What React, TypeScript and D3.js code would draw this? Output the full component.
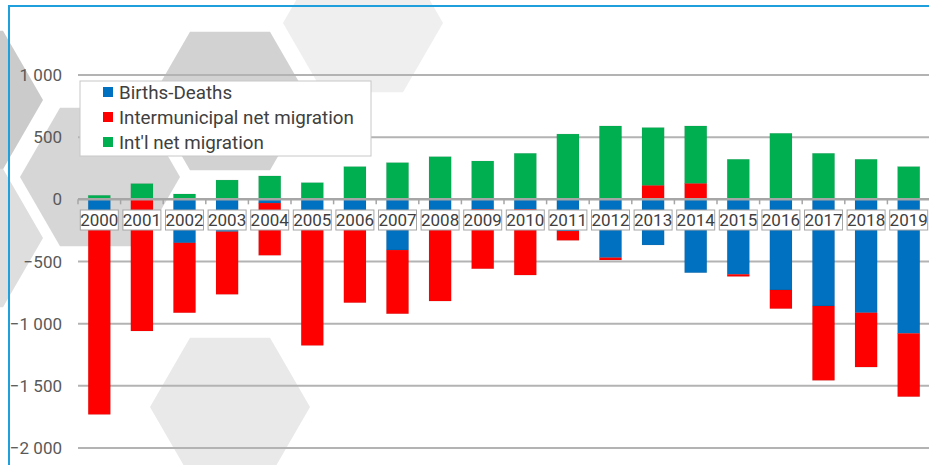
import React, { useEffect, useRef } from 'react'
import * as d3 from 'd3'

const years = ['2000', '2001', '2002', '2003', '2004', '2005', '2006', '2007', '2008', '2009',
  '2010', '2011', '2012', '2013', '2014', '2015', '2016', '2017', '2018', '2019']
const birthsDeaths = [-100, 0, -350, -260, -30, -100, -100, -408, -100, -80,
  -80, -255, -469, -367, -590, -603, -729, -858, -912, -1078]
const interMigration = [-1630, -1059, -562, -504, -420, -1075, -731, -512, -718, -478,
  -529, -75, -19, 113, 129, -17, -150, -598, -437, -509]
const intlMigration = [32, 126, 43, 155, 188, 134, 263, 295, 343, 308,
  370, 525, 590, 464, 461, 322, 531, 370, 322, 263]
const seriesNames = ['Births-Deaths', 'Intermunicipal net migration', "Int'l net migration"]
const seriesColors = ['#0070c0', '#ff0000', '#00b050']
const yTicks = [1000, 500, 0, -500, -1000, -1500, -2000]

// decorative hexagons behind the plot: [cx, cy, fill]
const hexes: [number, number, string][] = [
  [363, 23, '#efefef'],
  [230, 101, '#d2d2d2'],
  [100, 177, '#d6d6d6'],
  [-37, 100, '#cbcbcb'],
  [-37, 238, '#dedede'],
  [230, 407, '#e9e9e9'],
]

export default function App() {
  const ref = useRef<HTMLDivElement | null>(null)

  useEffect(() => {
    const container = d3.select(ref.current!)
    container.selectAll('*').remove()
    const width = 929
    const height = 465
    const svg = container.append('svg')
      .attr('width', width).attr('height', height)
      .style('position', 'absolute').style('left', '0px').style('top', '0px')
      .style('font-family', 'Roboto, sans-serif')

    svg.append('rect').attr('width', width).attr('height', height).attr('fill', '#fff')

    const R = 80
    svg.append('g').selectAll('polygon').data(hexes).enter().append('polygon')
      .attr('points', d => d3.range(6).map(k => {
        const a = (Math.PI / 3) * k
        return `${d[0] + R * Math.cos(a)},${d[1] + R * Math.sin(a)}`
      }).join(' '))
      .attr('fill', d => d[2])

    // frame
    svg.append('path').attr('d', `M9,465 V6 H929`).attr('fill', 'none')
      .attr('stroke', '#1fa0dc').attr('stroke-width', 2)

    const x = d3.scaleBand<string>().domain(years).range([78, 930]).paddingInner(0.48).paddingOuter(0.24)
    const y = d3.scaleLinear().domain([-2000, 1000]).range([448, 75])

    svg.append('g').selectAll('line').data(yTicks.filter(t => t !== 0)).enter().append('line')
      .attr('x1', 78).attr('x2', width).attr('y1', d => y(d)).attr('y2', d => y(d))
      .attr('stroke', '#b3b3b3').attr('stroke-width', 2)

    svg.append('g').selectAll('text').data(yTicks).enter().append('text')
      .attr('x', 62).attr('y', d => y(d)).attr('dy', '0.36em')
      .attr('text-anchor', 'end').attr('font-size', 17).attr('fill', '#595959')
      .text(d => d3.format(',')(d).replace(/,/g, ' '))

    const rows = years.map((yr, i) => ({ year: yr, a: birthsDeaths[i], b: interMigration[i], c: intlMigration[i] }))
    const stack = d3.stack<any>().keys(['a', 'b', 'c']).offset(d3.stackOffsetDiverging)
    const layers = stack(rows)

    svg.append('g').selectAll('g').data(layers).enter().append('g')
      .attr('fill', (_, i) => seriesColors[i])
      .selectAll('rect').data(d => d).enter().append('rect')
      .attr('x', d => x(d.data.year)!)
      .attr('width', x.bandwidth())
      .attr('y', d => y(Math.max(d[0], d[1])))
      .attr('height', d => Math.abs(y(d[0]) - y(d[1])))
      .attr('stroke', 'rgba(0,0,0,0.12)').attr('stroke-width', 0.6)

    // zero axis with ticks
    const axis = svg.append('g')
    axis.append('line').attr('x1', 78).attr('x2', width).attr('y1', y(0)).attr('y2', y(0))
      .attr('stroke', '#a6a6a6').attr('stroke-width', 2.5)
    axis.selectAll('.tk').data(d3.range(years.length + 1)).enter().append('line')
      .attr('x1', k => 78 + k * x.step()).attr('x2', k => 78 + k * x.step())
      .attr('y1', y(0)).attr('y2', y(0) + 5)
      .attr('stroke', '#a6a6a6').attr('stroke-width', 1.5)

    // category labels in boxes
    const lab = svg.append('g').selectAll('g').data(years).enter().append('g')
      .attr('transform', d => `translate(${x(d)! + x.bandwidth() / 2},220)`)
    lab.append('rect').attr('x', -19).attr('y', -10).attr('width', 38).attr('height', 20)
      .attr('fill', '#fff').attr('stroke', '#a6a6a6').attr('stroke-width', 1)
    lab.append('text').attr('text-anchor', 'middle').attr('dy', '0.36em')
      .attr('font-size', 17).attr('fill', '#404040').text(d => d)

    // legend
    const lg = svg.append('g')
    lg.append('rect').attr('x', 80).attr('y', 81).attr('width', 291).attr('height', 75)
      .attr('fill', '#fff').attr('stroke', '#c8c8c8').attr('stroke-width', 1)
    const item = lg.selectAll('g').data(seriesNames).enter().append('g')
      .attr('transform', (_, i) => `translate(0,${92 + i * 25})`)
    item.append('rect').attr('x', 103).attr('y', -5).attr('width', 10).attr('height', 10)
      .attr('fill', (_, i) => seriesColors[i])
    item.append('text').attr('x', 119).attr('dy', '0.36em').attr('font-size', 18.8)
      .attr('fill', '#404040').text(d => d)
  }, [])

  return <div ref={ref} />
}
